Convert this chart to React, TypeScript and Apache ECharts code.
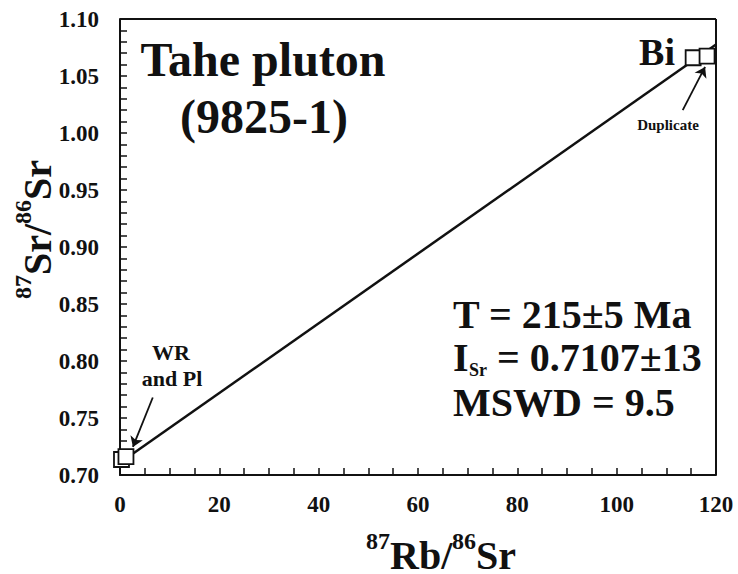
import React, { useEffect, useRef } from "react";
import * as echarts from "echarts";

const FONT = "Liberation Serif";

// Sample data: 87Rb/86Sr (x) and 87Sr/86Sr (y)
const WR_PL_X = [0.3, 1.2];
const WR_PL_Y = [0.7136, 0.7162];
const BI_X = [115.4, 118.2];
const BI_Y = [1.066, 1.0675];

// Isochron end points
const ISO_X = [1, 120];
const ISO_Y = [0.7138, 1.0777];

// Annotation arrows [from, to]
const ARROW_WR = [[6.6, 0.768], [2.6, 0.7246]];
const ARROW_DUP = [[113.3, 1.02], [117.8, 1.058]];

const X_MIN = 0, X_MAX = 120, X_STEP = 20;
const Y_MIN = 0.7, Y_MAX = 1.1, Y_STEP = 0.05;

function txt(text: string, x: number, y: number, size: number, align = "center") {
  return {
    type: "text", x, y,
    style: { text, fontFamily: FONT, fontWeight: "bold", fontSize: size, fill: "#111", textAlign: align, textVerticalAlign: "middle" },
  };
}

function arrow(a: number[][]) {
  return [{ coord: a[0], symbol: "none" }, { coord: a[1], symbol: "arrow", symbolSize: 10 }];
}
function edge(a: number[], b: number[]) {
  return [
    { coord: a, symbol: "none", lineStyle: { width: 2 } },
    { coord: b, symbol: "none" },
  ];
}

export default function App() {
  const ref = useRef<HTMLDivElement>(null);
  useEffect(() => {
    const chart = echarts.init(ref.current!, null, { renderer: "svg" });
    const bold = { fontFamily: FONT, fontWeight: "bold", color: "#111" };
    chart.setOption({
      animation: false,
      backgroundColor: "#fff",
      grid: { left: 120, right: 22, top: 19, bottom: 99 },
      xAxis: {
        type: "value", min: X_MIN, max: X_MAX, interval: X_STEP,
        axisLine: { show: true, lineStyle: { color: "#111", width: 2 } },
        axisTick: { show: true, inside: true, length: 7, lineStyle: { color: "#111", width: 1.5 } },
        minorTick: { show: true, splitNumber: 4, length: 7, lineStyle: { color: "#111", width: 1.5 } },
        splitLine: { show: false },
        axisLabel: { ...bold, fontSize: 23, margin: 18 },
      },
      yAxis: {
        type: "value", min: Y_MIN, max: Y_MAX, interval: Y_STEP,
        axisLine: { show: true, lineStyle: { color: "#111", width: 2 } },
        axisTick: { show: true, inside: true, length: 7, lineStyle: { color: "#111", width: 1.5 } },
        minorTick: { show: true, splitNumber: 5, length: 7, lineStyle: { color: "#111", width: 1.5 } },
        splitLine: { show: false },
        axisLabel: { ...bold, fontSize: 23, margin: 21, formatter: (v: number) => v.toFixed(2) },
      },
      series: [
        {
          type: "line", data: ISO_X.map((x, i) => [x, ISO_Y[i]]), symbol: "none", z: 1,
          lineStyle: { color: "#111", width: 2.5 },
          markLine: {
            silent: true, animation: false,
            label: { show: false },
            lineStyle: { color: "#111", width: 1.8, type: "solid", opacity: 1 },
            data: [
              arrow(ARROW_WR),
              arrow(ARROW_DUP),
              edge([X_MIN, Y_MAX], [X_MAX, Y_MAX]),
              edge([X_MAX, Y_MIN], [X_MAX, Y_MAX]),
            ],
          },
        },
        {
          type: "scatter", data: WR_PL_X.map((x, i) => [x, WR_PL_Y[i]]), symbol: "rect", symbolSize: 15, z: 5,
          itemStyle: { color: "#fff", borderColor: "#111", borderWidth: 1.8, opacity: 1 },
        },
        {
          type: "scatter", data: BI_X.map((x, i) => [x, BI_Y[i]]), symbol: "rect", symbolSize: 15, z: 5,
          itemStyle: { color: "#fff", borderColor: "#111", borderWidth: 1.8, opacity: 1 },
        },
      ],
      graphic: [
        txt("Tahe pluton", 263, 59, 48),
        txt("(9825-1)", 264, 116, 48),
        txt("Bi", 657, 52, 38),
        txt("Duplicate", 668, 125, 15),
        txt("WR", 171, 352, 22),
        txt("and Pl", 172, 378, 22),
        txt("T = 215±5 Ma", 453, 314, 40, "left"),
        txt("I", 453, 357, 40, "left"),
        txt("Sr", 469, 370, 18, "left"),
        txt("= 0.7107±13", 497, 357, 40, "left"),
        txt("MSWD = 9.5", 453, 402, 40, "left"),
        // x-axis title
        txt("87", 366, 541, 24, "left"),
        txt("Rb/", 390, 555, 40, "left"),
        txt("86", 452, 541, 24, "left"),
        txt("Sr", 476, 555, 40, "left"),
        // y-axis title (rotated group)
        {
          type: "group", x: 37, y: 229, rotation: Math.PI / 2,
          children: [
            txt("87", -70, -14, 24, "left"),
            txt("Sr/", -46, 0, 40, "left"),
            txt("86", 5, -14, 24, "left"),
            txt("Sr", 29, 0, 40, "left"),
          ],
        },
      ],
    });
    return () => chart.dispose();
  }, []);
  return <div ref={ref} style={{ width: 738, height: 574, position: "absolute", left: 0, top: 0 }} />;
}
